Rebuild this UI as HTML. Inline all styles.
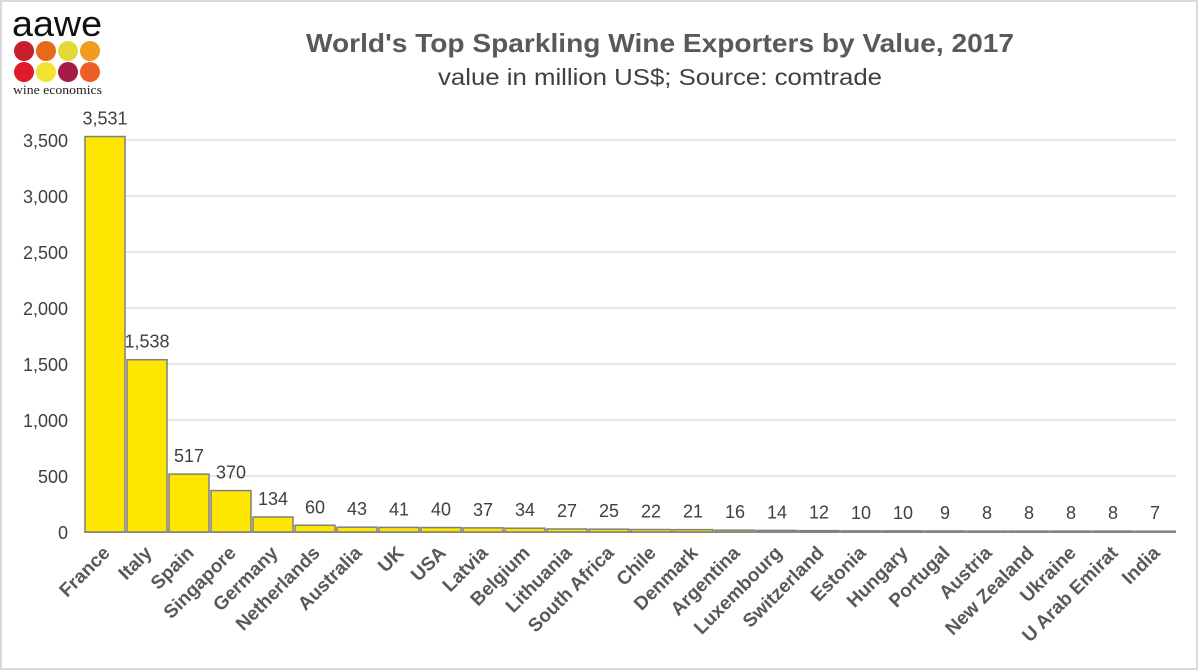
<!DOCTYPE html>
<html><head><meta charset="utf-8"><style>
body{margin:0;background:#fff;}
svg{display:block;font-family:"Liberation Sans","DejaVu Sans",sans-serif;}
</style></head><body>
<svg width="1200" height="672" viewBox="0 0 1200 672" xmlns="http://www.w3.org/2000/svg">
<rect x="1" y="1" width="1196" height="668" fill="#fff" stroke="#d9d9d9" stroke-width="2"/>
<text x="12" y="36" font-size="36" fill="#111" font-family="Liberation Sans,sans-serif" textLength="90" lengthAdjust="spacingAndGlyphs">aawe</text>
<g>
<circle cx="24" cy="51" r="10" fill="#c8202a"/><circle cx="46" cy="51" r="10" fill="#e8691e"/><circle cx="68" cy="51" r="10" fill="#e3d938"/><circle cx="90" cy="51" r="10" fill="#f29c1f"/>
<circle cx="24" cy="72" r="10" fill="#e0192b"/><circle cx="46" cy="72" r="10" fill="#f2e331"/><circle cx="68" cy="72" r="10" fill="#a51d46"/><circle cx="90" cy="72" r="10" fill="#ec5f27"/>
</g>
<text x="13" y="94" font-size="13" fill="#222" font-family="Liberation Serif,serif" textLength="89" lengthAdjust="spacingAndGlyphs">wine economics</text>
<text x="660" y="52" text-anchor="middle" font-size="26" font-weight="bold" fill="#595959" textLength="708" lengthAdjust="spacingAndGlyphs">World's Top Sparkling Wine Exporters by Value, 2017</text>
<text x="660" y="85" text-anchor="middle" font-size="23" fill="#404040" textLength="444" lengthAdjust="spacingAndGlyphs">value in million US$; Source: comtrade</text>
</svg>
<script>
var s=document.querySelector('svg'),ns='http://www.w3.org/2000/svg';
function el(t,a,txt){var e=document.createElementNS(ns,t);for(var k in a)e.setAttribute(k,a[k]);if(txt!=null)e.textContent=txt;s.appendChild(e);return e;}
var zero=532,k=0.112;
for(var v=0;v<=3500;v+=500){var y=zero-v*k;
 el('line',{x1:84,x2:1176,y1:y,y2:y,stroke:v?'#d9d9d9':'#a6a6a6','stroke-width':v?1.2:2});
 el('text',{x:68,y:y+7,'text-anchor':'end','font-size':18,fill:'#404040'},v.toLocaleString('en-US'));}
var d=[["France",3531],["Italy",1538],["Spain",517],["Singapore",370],["Germany",134],["Netherlands",60],["Australia",43],["UK",41],["USA",40],["Latvia",37],["Belgium",34],["Lithuania",27],["South Africa",25],["Chile",22],["Denmark",21],["Argentina",16],["Luxembourg",14],["Switzerland",12],["Estonia",10],["Hungary",10],["Portugal",9],["Austria",8],["New Zealand",8],["Ukraine",8],["U Arab Emirat",8],["India",7]];
d.forEach(function(r,i){var x=84+42*i,cx=x+21,h=r[1]*k,top=zero-h;
 el('rect',{x:x+1,y:top,width:40,height:h,fill:'#ffe600',stroke:'#7f7f7f','stroke-width':1.5});
 el('text',{x:cx,y:top-12,'text-anchor':'middle','font-size':18,fill:'#404040'},r[1].toLocaleString('en-US'));
 var lx=cx+6,ly=554;
 el('text',{x:lx,y:ly,'text-anchor':'end','font-size':19,'font-weight':'bold',fill:'#595959',transform:'rotate(-45 '+lx+' '+ly+')'},r[0]);
});
</script>
</body></html>
